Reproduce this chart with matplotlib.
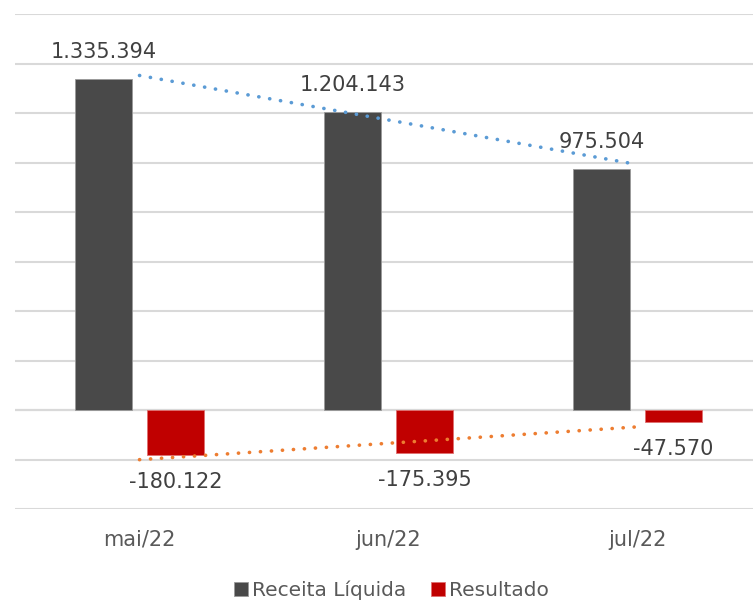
import matplotlib.pyplot as plt
import numpy as np

categories = ['mai/22', 'jun/22', 'jul/22']
receita = [1335394, 1204143, 975504]
resultado = [-180122, -175395, -47570]


def fmt(v):
    s = f'{abs(v):,}'.replace(',', '.')
    return '-' + s if v < 0 else s


plt.rcParams['font.family'] = ['DejaVu Sans']

fig = plt.figure(figsize=(7.53, 6.0), dpi=100)
ax = fig.add_axes([15 / 753, 91 / 600, 747 / 753, 495 / 600])

x = np.arange(len(categories))
w = 0.226
off = 0.145

ax.bar(x - off, receita, w, color='#494949', edgecolor='#9a9a9a', linewidth=0.6, zorder=3,
       label='Receita Líquida')
ax.bar(x + off, resultado, w, color='#c00000', edgecolor='#e07070', linewidth=0.6, zorder=3,
       label='Resultado')

# linear trendlines
for vals, col in [(receita, '#5b9bd5'), (resultado, '#ed7d31')]:
    k, b = np.polyfit(x, vals, 1)
    ax.plot(x[[0, -1]], k * x[[0, -1]] + b, color=col, linewidth=2.6,
            linestyle=(0, (0.05, 3.0)), dash_capstyle='round', zorder=4)

for xi, v in zip(x, receita):
    ax.annotate(fmt(v), (xi - off, v), xytext=(0, 27), textcoords='offset pixels',
                ha='center', va='center', fontsize=15, color='#404040', zorder=5)
for xi, v in zip(x, resultado):
    ax.annotate(fmt(v), (xi + off, v), xytext=(0, -27), textcoords='offset pixels',
                ha='center', va='center', fontsize=15, color='#404040', zorder=5)

ax.set_xlim(-0.5, 2.5)
ax.set_ylim(-400000, 1600000)
ax.set_yticks(np.arange(-400000, 1600001, 200000))
ax.yaxis.grid(True, color='#d9d9d9', linewidth=1.5, zorder=0)
ax.tick_params(axis='y', left=False, labelleft=False)
ax.axhline(0, color='#d0d0d0', linewidth=1.5, zorder=1)

ax.set_xticks(x)
ax.set_xticklabels(categories, fontsize=15, color='#595959')
ax.tick_params(axis='x', length=0, pad=15)
for s in ax.spines.values():
    s.set_visible(False)

ax.legend(loc='lower center', bbox_to_anchor=((391.5 - 15) / 747, -0.22), ncol=2, frameon=False,
          fontsize=14.5, handlelength=0.7, handleheight=0.7, handletextpad=0.2,
          columnspacing=1.25, labelcolor='#595959')

fig.savefig('out.png', dpi=100)
